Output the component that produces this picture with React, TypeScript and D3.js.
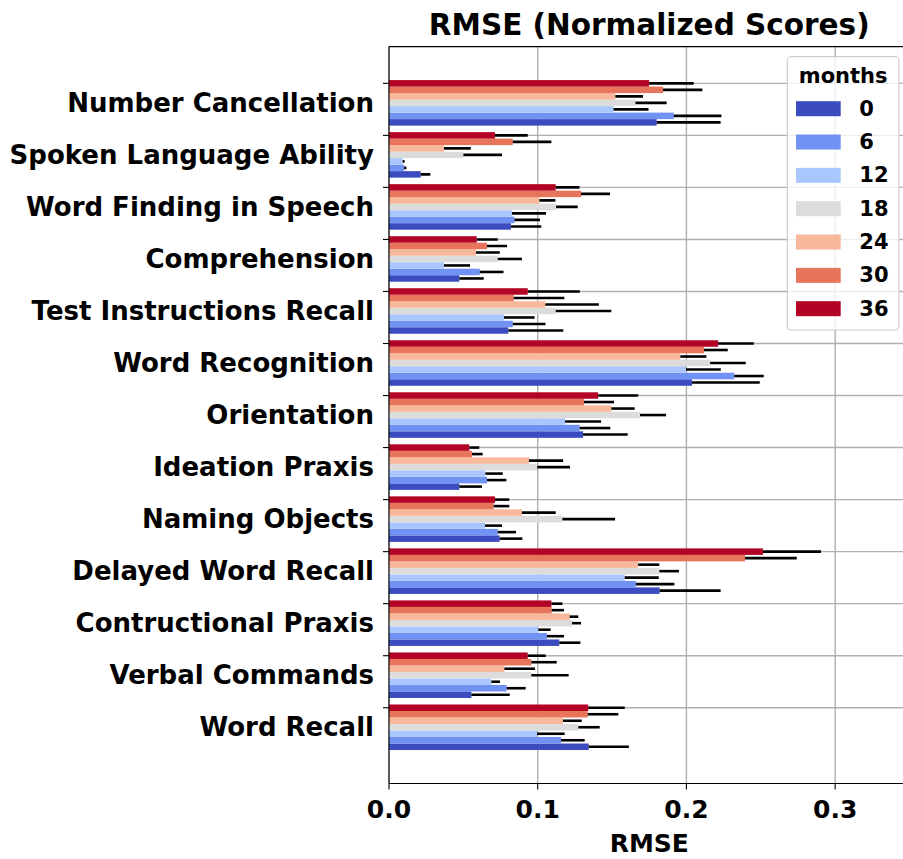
import React from "react";
import * as d3 from "d3";

const categories = [
  "Number Cancellation",
  "Spoken Language Ability",
  "Word Finding in Speech",
  "Comprehension",
  "Test Instructions Recall",
  "Word Recognition",
  "Orientation",
  "Ideation Praxis",
  "Naming Objects",
  "Delayed Word Recall",
  "Contructional Praxis",
  "Verbal Commands",
  "Word Recall",
];

const months = ["0", "6", "12", "18", "24", "30", "36"];
const colors = ["#3b4cc0", "#6f92f3", "#aac7fd", "#dddcdc", "#f7b89c", "#e7745b", "#b40426"];

const rmse0 = [0.180, 0.0213, 0.082, 0.0473, 0.0802, 0.2038, 0.1305, 0.0473, 0.0744, 0.182, 0.1145, 0.0554, 0.1343];
const rmse6 = [0.1915, 0.0101, 0.0843, 0.061, 0.0832, 0.2322, 0.1282, 0.0659, 0.0731, 0.1659, 0.1062, 0.0791, 0.1157];
const rmse12 = [0.151, 0.0092, 0.0827, 0.037, 0.0773, 0.1997, 0.1184, 0.0648, 0.0646, 0.1585, 0.1004, 0.0688, 0.0995];
const rmse18 = [0.1657, 0.050, 0.1123, 0.0731, 0.1121, 0.2159, 0.1688, 0.0997, 0.1166, 0.1818, 0.1231, 0.0957, 0.1273];
const rmse24 = [0.1522, 0.037, 0.1011, 0.0585, 0.1051, 0.1959, 0.1495, 0.0941, 0.0894, 0.1675, 0.1215, 0.0776, 0.117];
const rmse30 = [0.1843, 0.0832, 0.1291, 0.0659, 0.0839, 0.2118, 0.1311, 0.0558, 0.0704, 0.2394, 0.1094, 0.0957, 0.1336];
const rmse36 = [0.1749, 0.0713, 0.1121, 0.059, 0.0933, 0.2213, 0.1406, 0.054, 0.0713, 0.2515, 0.1092, 0.0933, 0.134];

const err0 = [0.043, 0.0065, 0.0204, 0.0164, 0.037, 0.0455, 0.030, 0.0152, 0.0153, 0.041, 0.0142, 0.0258, 0.027];
const err6 = [0.032, 0.0016, 0.0172, 0.016, 0.022, 0.0198, 0.0206, 0.013, 0.0123, 0.026, 0.0115, 0.0128, 0.0159];
const err12 = [0.0235, 0.0013, 0.0229, 0.0175, 0.0206, 0.0234, 0.0242, 0.0117, 0.0114, 0.0229, 0.0083, 0.0058, 0.0186];
const err18 = [0.021, 0.026, 0.0146, 0.0163, 0.0374, 0.024, 0.0175, 0.022, 0.0354, 0.0132, 0.006, 0.0251, 0.0144];
const err24 = [0.0186, 0.018, 0.0108, 0.016, 0.036, 0.0175, 0.0157, 0.023, 0.0227, 0.0143, 0.0058, 0.0206, 0.0126];
const err30 = [0.0264, 0.026, 0.0195, 0.0135, 0.034, 0.016, 0.0202, 0.0072, 0.0105, 0.0348, 0.0083, 0.0171, 0.0206];
const err36 = [0.030, 0.022, 0.016, 0.0141, 0.035, 0.024, 0.027, 0.0067, 0.0096, 0.039, 0.0074, 0.0121, 0.0245];

const xTicks = [0, 0.1, 0.2, 0.3];

const series = [rmse0, rmse6, rmse12, rmse18, rmse24, rmse30, rmse36];
const errors = [err0, err6, err12, err18, err24, err30, err36];

const W = 903;
const H = 859;
const FONT = "DejaVu Sans";

export default function App() {
  const left = 389;
  const right = 909.5;
  const top = 46.6;
  const bottom = 783.5;
  const x = d3.scaleLinear().domain([0, 0.35]).range([left, right]);
  const y = d3.scaleLinear().domain([-0.706, 13.456]).range([top, bottom]);
  const bw = 0.125;
  const nS = months.length;
  const barY = (i: number, k: number) => i + (nS - 1 - k) * bw; // center
  const bh = y(bw) - y(0);

  const legX = 787.3;
  const legY = 56.7;
  const legW = 111.7;
  const legH = 273.3;

  return (
    <svg
      width={W}
      height={H}
      style={{ position: "absolute", left: 0, top: 0, background: "#fff" }}
      fontFamily={FONT}
      fontWeight="bold"
    >
      <defs>
        <clipPath id="plot">
          <rect x={left} y={top} width={right - left} height={bottom - top} />
        </clipPath>
      </defs>
      <rect x={0} y={0} width={W} height={H} fill="#fff" />
      {/* grid */}
      <g stroke="#b0b0b0" strokeWidth={1.4}>
        {xTicks.map((t) => (
          <line key={"gx" + t} x1={x(t)} x2={x(t)} y1={top} y2={bottom} />
        ))}
        {categories.map((c, i) => (
          <line key={"gy" + c} x1={left} x2={right} y1={y(i)} y2={y(i)} />
        ))}
      </g>
      {/* bars */}
      <g clipPath="url(#plot)">
        {series.map((vals, k) =>
          vals.map((v, i) => (
            <rect
              key={`b${k}-${i}`}
              x={x(0)}
              y={y(barY(i, k)) - bh / 2}
              width={x(v) - x(0)}
              height={bh}
              fill={colors[k]}
            />
          ))
        )}
        {series.map((vals, k) =>
          vals.map((v, i) => (
            <line
              key={`e${k}-${i}`}
              x1={x(v)}
              x2={x(v + errors[k][i])}
              y1={y(barY(i, k))}
              y2={y(barY(i, k))}
              stroke="#000"
              strokeWidth={2.6}
            />
          ))
        )}
      </g>
      {/* spines */}
      <g stroke="#000" strokeWidth={1.1}>
        <line x1={left} x2={left} y1={top} y2={bottom} />
        <line x1={left} x2={right} y1={top} y2={top} />
        <line x1={left} x2={right} y1={bottom} y2={bottom} />
      </g>
      {/* y ticks and labels */}
      {categories.map((c, i) => (
        <g key={"yl" + c}>
          <line x1={left - 6} x2={left} y1={y(i)} y2={y(i)} stroke="#000" strokeWidth={1.1} />
          <text
            x={374}
            y={y(i + 0.375)}
            textAnchor="end"
            dominantBaseline="central"
            fontSize={26}
            fill="#000"
          >
            {c}
          </text>
        </g>
      ))}
      {/* x ticks */}
      {xTicks.map((t) => (
        <g key={"xt" + t}>
          <line x1={x(t)} x2={x(t)} y1={bottom} y2={bottom + 6} stroke="#000" strokeWidth={1.1} />
          <text x={x(t)} y={818} textAnchor="middle" fontSize={25} fill="#000">
            {d3.format(".1f")(t)}
          </text>
        </g>
      ))}
      <text x={(left + right) / 2} y={852} textAnchor="middle" fontSize={25} fill="#000">
        RMSE
      </text>
      <text x={(left + right) / 2} y={35} textAnchor="middle" fontSize={29.5} fill="#000">
        RMSE (Normalized Scores)
      </text>
      {/* legend */}
      <g>
        <rect
          x={legX}
          y={legY}
          width={legW}
          height={legH}
          rx={4}
          fill="#fff"
          fillOpacity={0.8}
          stroke="#cccccc"
          strokeWidth={1.2}
        />
        <text x={legX + legW / 2} y={83} textAnchor="middle" fontSize={21} fill="#000">
          months
        </text>
        {months.map((m, k) => {
          const cy = 108.7 + k * 33.33;
          return (
            <g key={"lg" + m}>
              <rect x={796} y={cy - 7.5} width={44.7} height={15} fill={colors[k]} />
              <text x={859.3} y={cy} dominantBaseline="central" fontSize={21} fill="#000">
                {m}
              </text>
            </g>
          );
        })}
      </g>
    </svg>
  );
}
